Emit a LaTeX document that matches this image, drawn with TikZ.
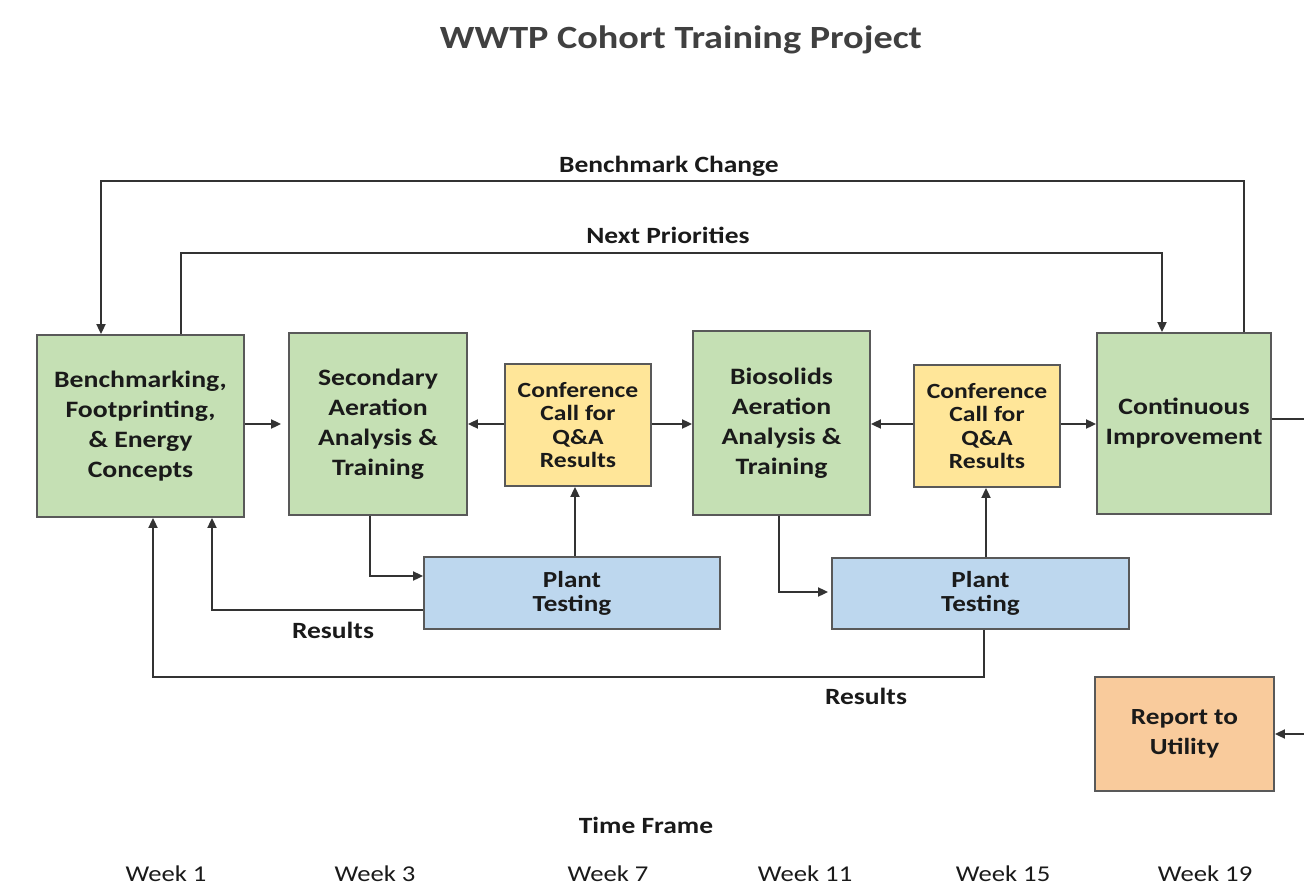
\documentclass[tikz,border=0pt]{standalone}
\usepackage{fontspec}
\setmainfont{Carlito}[FakeStretch=1.18]
\usetikzlibrary{arrows.meta}
\definecolor{gfill}{HTML}{C5E0B4}
\definecolor{yfill}{HTML}{FFE699}
\definecolor{bfill}{HTML}{BDD7EE}
\definecolor{ofill}{HTML}{F9CB9C}
\definecolor{bordc}{HTML}{595959}
\definecolor{linec}{HTML}{333333}
\definecolor{txtc}{HTML}{1A1A1A}
\definecolor{titlec}{HTML}{404040}
\tikzset{
  box/.style={draw=bordc, line width=1.8pt, align=center, text=txtc, font=\bfseries\fontsize{23.5}{30}\selectfont, inner sep=0pt},
  greenbox/.style={box, fill=gfill},
  confbox/.style={box, fill=yfill, font=\bfseries\fontsize{21.7}{23.5}\selectfont},
  plantbox/.style={box, fill=bfill, font=\bfseries\fontsize{23}{24}\selectfont},
  reportbox/.style={box, fill=ofill, font=\bfseries\fontsize{23.1}{30}\selectfont},
  conn/.style={draw=linec, line width=1.8pt},
  arr/.style={conn, -{Triangle[length=10pt,width=9pt]}},
  lbl/.style={text=txtc, font=\bfseries\fontsize{23.3}{26}\selectfont, inner sep=0pt},
  week/.style={text=txtc, font=\fontsize{22.6}{26}\selectfont, inner sep=0pt}
}
\begin{document}
\begin{tikzpicture}[x=1pt,y=-1pt]
\useasboundingbox[fill=white] (0,0) rectangle (1304,886);
% title
\node[text=titlec, font=\bfseries\fontsize{32.4}{36}\selectfont, inner sep=0pt] (title) at (681,40) {WWTP Cohort Training Project};
% main boxes
\node[greenbox, minimum width=207pt, minimum height=182pt] (A) at (140.5,426) {Benchmarking,\\Footprinting,\\\& Energy\\Concepts};
\node[greenbox, minimum width=178pt, minimum height=182pt] (B) at (378,424) {Secondary\\Aeration\\Analysis \&\\Training};
\node[confbox, minimum width=146pt, minimum height=122pt] (Q1) at (578,425) {Conference\\Call for\\Q\&A\\Results};
\node[greenbox, minimum width=177pt, minimum height=184pt] (C) at (781.5,423) {Biosolids\\Aeration\\Analysis \&\\Training};
\node[confbox, minimum width=146pt, minimum height=122pt] (Q2) at (987,426) {Conference\\Call for\\Q\&A\\Results};
\node[greenbox, minimum width=174pt, minimum height=181pt] (D) at (1184,423.5) {Continuous\\Improvement};
\node[plantbox, minimum width=296pt, minimum height=72pt] (P1) at (572,593) {Plant\\Testing};
\node[plantbox, minimum width=297pt, minimum height=71pt] (P2) at (980.5,593.5) {Plant\\Testing};
\node[reportbox, minimum width=179pt, minimum height=114pt] (R) at (1184.5,734) {Report to\\Utility};
% labels
\node[lbl] (lbc) at (669,166) {Benchmark Change};
\node[lbl] (lnp) at (668,235) {Next Priorities};
\node[lbl] (lr1) at (333,630) {Results};
\node[lbl] (lr2) at (866,696) {Results};
\node[lbl] (ltf) at (646,825) {Time Frame};
\node[week] (w1) at (166,874) {Week 1};
\node[week] (w3) at (375,874) {Week 3};
\node[week] (w7) at (608,874) {Week 7};
\node[week] (w11) at (805,874) {Week 11};
\node[week] (w15) at (1003,874) {Week 15};
\node[week] (w19) at (1205,874) {Week 19};
% helper coordinates
\coordinate (bcR) at (1244,181);
\coordinate (bcL) at (101,181);
\coordinate (npL) at (181,253);
\coordinate (npR) at (1162,253);
\coordinate (h1) at (0,424);
\coordinate (rt) at (1310,419);
\coordinate (rb) at (1310,734);
\coordinate (bp) at (370,576);
\coordinate (pc1) at (575,0);
\coordinate (pa) at (212,610);
\coordinate (cp) at (779,592);
\coordinate (pc2) at (986,0);
\coordinate (pb) at (984,677);
\coordinate (pl) at (153,677);
% connectors
\draw[arr] (D.north -| bcR) |- (bcL) -- (A.north -| bcL);
\draw[arr] (A.north -| npL) |- (npR) -- (D.north -| npR);
\draw[arr, shorten >=7pt] (A.east |- h1) -- (B.west |- h1);
\draw[arr] (Q1.west |- h1) -- (B.east |- h1);
\draw[arr] (Q1.east |- h1) -- (C.west |- h1);
\draw[arr] (Q2.west |- h1) -- (C.east |- h1);
\draw[arr] (Q2.east |- h1) -- (D.west |- h1);
\draw[conn] (D.east |- rt) -- (rt);
\draw[arr] (rb) -- (R.east |- rb);
\draw[arr] (B.south -| bp) |- (P1.west |- bp);
\draw[arr] (P1.north -| pc1) -- (Q1.south -| pc1);
\draw[arr] (P1.west |- pa) -| (A.south -| pa);
\draw[arr, shorten >=3pt] (C.south -| cp) |- (P2.west |- cp);
\draw[arr] (P2.north -| pc2) -- (Q2.south -| pc2);
\draw[arr] (P2.south -| pb) |- (pl) -- (A.south -| pl);
\end{tikzpicture}
\end{document}
